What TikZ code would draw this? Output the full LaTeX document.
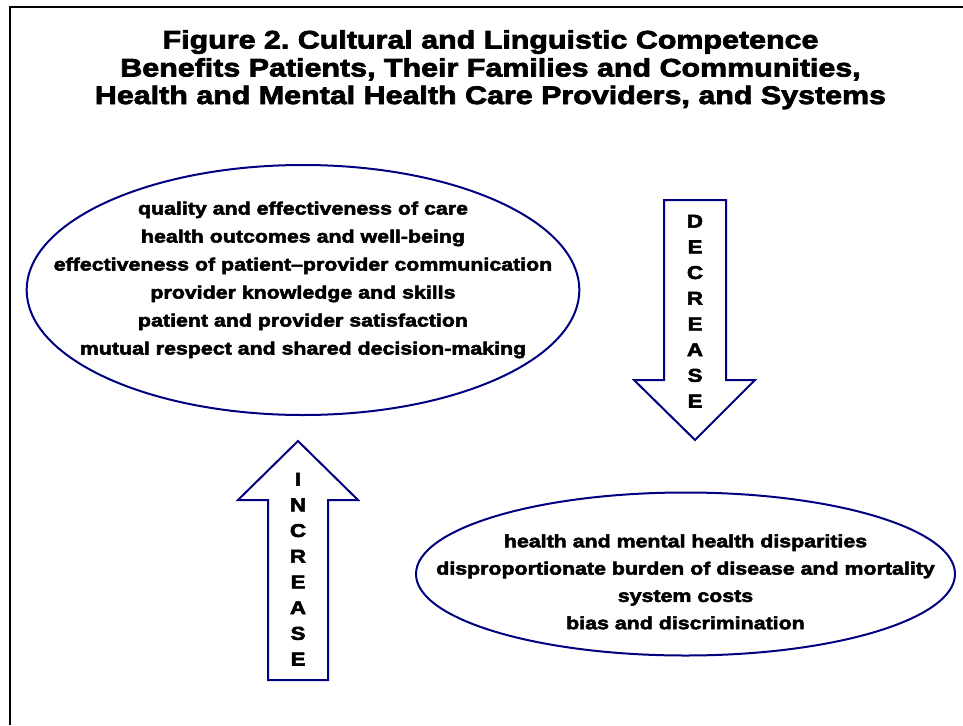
\documentclass[tikz,border=0pt]{standalone}
\usepackage{fontspec}
\usetikzlibrary{shapes.geometric}
\newfontfamily\heavy{Liberation Sans Bold}[FakeStretch=1.2,FakeBold=3]
\definecolor{navyline}{RGB}{0,0,128}
\frenchspacing
\tikzset{
  frame/.style={line width=2pt,black},
  bubble/.style={ellipse,draw=navyline,line width=2pt,inner sep=0pt,outer sep=0pt},
  blockarrow/.style={draw=navyline,line width=2pt,line join=miter,fill=white},
  titletext/.style={anchor=base,inner sep=0pt,font=\heavy\fontsize{25.35}{27.5}\selectfont\frenchspacing},
  itemtext/.style={anchor=base,inner sep=0pt,font=\heavy\fontsize{17.8}{28}\selectfont},
  lettertext/.style={anchor=base,inner sep=0pt,font=\heavy\fontsize{18.6}{20}\selectfont},
}
\begin{document}
\begin{tikzpicture}[x=1pt,y=-1pt]
\useasboundingbox (0,0) rectangle (963,725);
% frame (left and top edges only)
\draw[frame] (10,725) -- (10,7) -- (963,7);
% title
\node[titletext] (t1) at (490.5,48.5) {Figure 2. Cultural and Linguistic Competence};
\node[titletext] (t2) at (490.5,76.5) {Benefits Patients, Their Families and Communities,};
\node[titletext] (t3) at (490.5,104) {Health and Mental Health Care Providers, and Systems};
% upper ellipse
\node[bubble,minimum width=552.6pt,minimum height=250pt] (up) at (303,290) {};
\node[itemtext] (u1) at (303,214.5) {quality and effectiveness of care};
\node[itemtext] (u2) at (303,242.5) {health outcomes and well-being};
\node[itemtext] (u3) at (303,270.5) {effectiveness of patient–provider communication};
\node[itemtext] (u4) at (303,298.5) {provider knowledge and skills};
\node[itemtext] (u5) at (303,326.5) {patient and provider satisfaction};
\node[itemtext] (u6) at (303,354.5) {mutual respect and shared decision-making};
% lower ellipse
\node[bubble,minimum width=539pt,minimum height=163pt] (low) at (685.5,574) {};
\node[itemtext] (l1) at (685.5,547.3) {health and mental health disparities};
\node[itemtext] (l2) at (685.5,574.6) {disproportionate burden of disease and mortality};
\node[itemtext] (l3) at (685.5,601.9) {system costs};
\node[itemtext] (l4) at (685.5,629.2) {bias and discrimination};
% decrease arrow
\draw[blockarrow] (664,200) -- (726,200) -- (726,380) -- (755,380) -- (695,440) -- (634,380) -- (664,380) -- cycle;
\foreach \ch [count=\i from 0] in {D,E,C,R,E,A,S,E}
  \node[lettertext] (dec\i) at (695,{227.6+25.7*\i}) {\ch};
% increase arrow
\draw[blockarrow] (298,441) -- (358,500) -- (328,500) -- (328,680) -- (268,680) -- (268,500) -- (238,500) -- cycle;
\foreach \ch [count=\i from 0] in {I,N,C,R,E,A,S,E}
  \node[lettertext] (inc\i) at (298,{485.6+25.7*\i}) {\ch};
\end{tikzpicture}
\end{document}
